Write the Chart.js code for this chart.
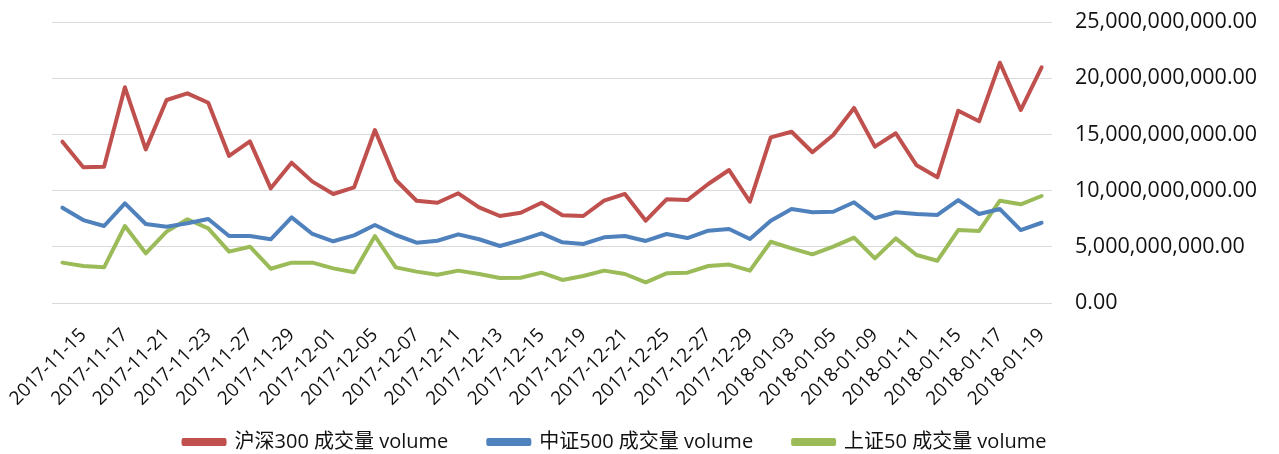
<!DOCTYPE html>
<html>
<head>
<meta charset="utf-8">
<script src="https://cdn.jsdelivr.net/npm/chart.js@4.4.1/dist/chart.umd.min.js"></script>
<style>
  html, body { margin: 0; padding: 0; background: #fff; }
  #wrap { width: 1279px; height: 454px; }
</style>
</head>
<body>
<div id="wrap"><canvas id="chart" width="1279" height="454"></canvas></div>
<script>
// trading days, only every other one gets a label
const dates = [
  '2017-11-14', '2017-11-15', '2017-11-16', '2017-11-17', '2017-11-20', '2017-11-21', '2017-11-22', '2017-11-23',
  '2017-11-24', '2017-11-27', '2017-11-28', '2017-11-29', '2017-11-30', '2017-12-01', '2017-12-04', '2017-12-05',
  '2017-12-06', '2017-12-07', '2017-12-08', '2017-12-11', '2017-12-12', '2017-12-13', '2017-12-14', '2017-12-15',
  '2017-12-18', '2017-12-19', '2017-12-20', '2017-12-21', '2017-12-22', '2017-12-25', '2017-12-26', '2017-12-27',
  '2017-12-28', '2017-12-29', '2018-01-02', '2018-01-03', '2018-01-04', '2018-01-05', '2018-01-08', '2018-01-09',
  '2018-01-10', '2018-01-11', '2018-01-12', '2018-01-15', '2018-01-16', '2018-01-17', '2018-01-18', '2018-01-19'
];

// volumes in billions
const UNIT = 1e9;
const hs300 = [
  14.35, 12.07, 12.13, 19.19, 13.67, 18.06, 18.65, 17.82, 13.08, 14.38, 10.20, 12.48, 10.80, 9.70, 10.29, 15.39,
  10.94, 9.10, 8.92, 9.76, 8.51, 7.74, 8.03, 8.92, 7.80, 7.74, 9.10, 9.70, 7.32, 9.22, 9.16, 10.59,
  11.83, 9.01, 14.74, 15.24, 13.41, 14.95, 17.35, 13.91, 15.10, 12.25, 11.18, 17.11, 16.17, 21.38, 17.17, 20.97
];
const zz500 = [
  8.48, 7.38, 6.85, 8.87, 7.03, 6.79, 7.09, 7.47, 5.96, 5.96, 5.67, 7.62, 6.14, 5.49, 6.02, 6.94,
  6.05, 5.37, 5.54, 6.11, 5.67, 5.07, 5.60, 6.20, 5.40, 5.25, 5.84, 5.96, 5.52, 6.14, 5.78, 6.43,
  6.58, 5.69, 7.32, 8.36, 8.07, 8.12, 8.96, 7.54, 8.07, 7.92, 7.83, 9.16, 7.92, 8.36, 6.49, 7.14
];
const sz50 = [
  3.59, 3.29, 3.17, 6.85, 4.42, 6.35, 7.45, 6.64, 4.57, 5.01, 3.05, 3.59, 3.59, 3.08, 2.73, 5.96,
  3.17, 2.79, 2.52, 2.88, 2.58, 2.22, 2.25, 2.70, 2.05, 2.40, 2.88, 2.58, 1.84, 2.64, 2.70, 3.29,
  3.42, 2.88, 5.45, 4.86, 4.33, 5.01, 5.81, 3.97, 5.75, 4.27, 3.76, 6.49, 6.41, 9.10, 8.78, 9.52
];
const seriesNames = ['沪深300 成交量 volume', '中证500 成交量 volume', '上证50 成交量 volume'];
const yTicks = [0, 5, 10, 15, 20, 25];

const colors = ['#C0504D', '#4F81BD', '#9BBB59'];
const fontFamily = '"Open Sans", "Noto Sans CJK SC", sans-serif';

const makeSet = (label, values, color) => ({
  label: label,
  data: values.map(v => v * UNIT),
  borderColor: color,
  backgroundColor: color,
  borderWidth: 4,
  borderCapStyle: 'round',
  borderJoinStyle: 'round',
  pointRadius: 0,
  tension: 0,
  fill: false
});

// let tick labels spill outside their boxes and nudge the legend down a bit
const layoutFix = {
  id: 'layoutFix',
  afterLayout(chart) {
    chart.scales.x.bottom = chart.height;
    chart.scales.y.right = chart.width;
    chart.legend.top += 8;
    chart.legend.bottom += 8;
  }
};

const ctx = document.getElementById('chart').getContext('2d');
new Chart(ctx, {
  type: 'line',
  data: {
    labels: dates,
    datasets: [
      makeSet(seriesNames[0], hs300, colors[0]),
      makeSet(seriesNames[1], zz500, colors[1]),
      makeSet(seriesNames[2], sz50, colors[2])
    ]
  },
  plugins: [layoutFix],
  options: {
    responsive: false,
    animation: false,
    layout: { padding: { left: 0, right: 49, top: 22, bottom: 0 } },
    plugins: {
      tooltip: { enabled: false },
      legend: {
        position: 'bottom',
        labels: {
          boxWidth: 41,
          boxHeight: 4,
          padding: 40,
          color: '#111',
          font: { family: fontFamily, size: 20 }
        }
      }
    },
    scales: {
      x: {
        offset: true,
        grid: { display: false },
        border: { display: false },
        ticks: {
          autoSkip: false,
          maxRotation: 45,
          minRotation: 45,
          padding: 13,
          color: '#111',
          font: { family: fontFamily, size: 19 },
          callback: function (value, index) {
            return index % 2 === 1 ? this.getLabelForValue(value) : null;
          }
        },
        afterFit: (scale) => {
          scale.paddingLeft = 52;
          scale.paddingRight = 0;
          scale.height = 81;
        }
      },
      y: {
        position: 'right',
        min: 0,
        max: 25 * UNIT,
        afterBuildTicks: (scale) => {
          scale.ticks = yTicks.map(v => ({ value: v * UNIT }));
        },
        grid: { color: '#d9d9d9', lineWidth: 1, drawTicks: false },
        border: { display: false },
        ticks: {
          padding: 23,
          color: '#111',
          font: { family: fontFamily, size: 21.5 },
          callback: (v) => v.toLocaleString('en-US', { minimumFractionDigits: 2, maximumFractionDigits: 2 })
        },
        afterFit: (scale) => {
          scale.width = 178;
          scale.paddingTop = 0;
          scale.paddingBottom = 0;
        }
      }
    }
  }
});
</script>
</body>
</html>
